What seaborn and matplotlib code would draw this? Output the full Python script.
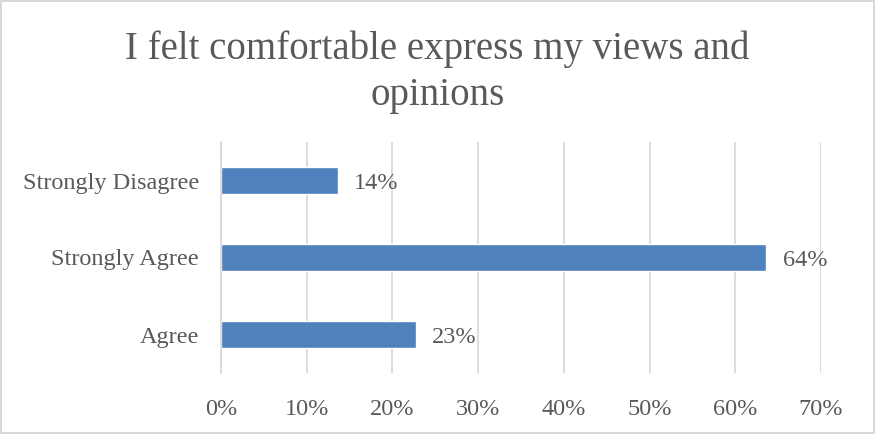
import matplotlib
matplotlib.use("Agg")
import matplotlib.pyplot as plt
from matplotlib.ticker import PercentFormatter
import seaborn as sns
import pandas as pd

# Survey responses (share of respondents)
categories = ["Strongly Disagree", "Strongly Agree", "Agree"]
shares = [3 / 22, 14 / 22, 5 / 22]
x_ticks = [0.0, 0.1, 0.2, 0.3, 0.4, 0.5, 0.6, 0.7]

title = "I felt comfortable express my views and\nopinions"

sns.set_theme(style="white")
plt.rcParams["font.family"] = ["Liberation Serif", "DejaVu Serif"]

text_color = "#595959"
grid_color = "#D9D9D9"
bar_color = "#4F81BD"

df = pd.DataFrame({"response": categories, "share": shares})

fig = plt.figure(figsize=(8.75, 4.34), dpi=100)
fig.patch.set_facecolor("white")
fig.patch.set_edgecolor("#D9D9D9")
fig.patch.set_linewidth(1.5)

ax = fig.add_axes([221 / 875, (434 - 373) / 434, 600 / 875, 231 / 434])
sns.barplot(data=df, x="share", y="response", order=categories,
            color=bar_color, saturation=1, width=0.35, ax=ax, zorder=3)

ax.set_xlim(0, 0.7)
ax.set_ylim(2.5, -0.5)
ax.set_xticks(x_ticks)
ax.xaxis.set_major_formatter(PercentFormatter(xmax=1, decimals=0))
ax.set_xlabel("")
ax.set_ylabel("")

ax.grid(axis="x", color=grid_color, linewidth=1.3, zorder=0)
ax.grid(axis="y", visible=False)
for side in ("top", "right", "bottom"):
    ax.spines[side].set_visible(False)
ax.spines["left"].set_color(grid_color)
ax.spines["left"].set_linewidth(1.3)
ax.spines["left"].set_zorder(4)

ax.tick_params(axis="x", length=0, pad=19, labelsize=17.5, labelcolor=text_color)
ax.tick_params(axis="y", length=0, pad=16, labelsize=17.5, labelcolor=text_color)

# Value labels at the end of each bar
for i, v in enumerate(shares):
    ax.text(v + 0.019, i + 0.04, f"{v:.0%}", va="center", ha="left",
            fontsize=17.5, color=text_color)

fig.text(0.5, 1 - 72 / 434, title, ha="center", va="center",
         fontsize=28, color=text_color, linespacing=1.32)

fig.savefig("out.png", dpi=100, facecolor=fig.get_facecolor(),
            edgecolor=fig.get_edgecolor())
